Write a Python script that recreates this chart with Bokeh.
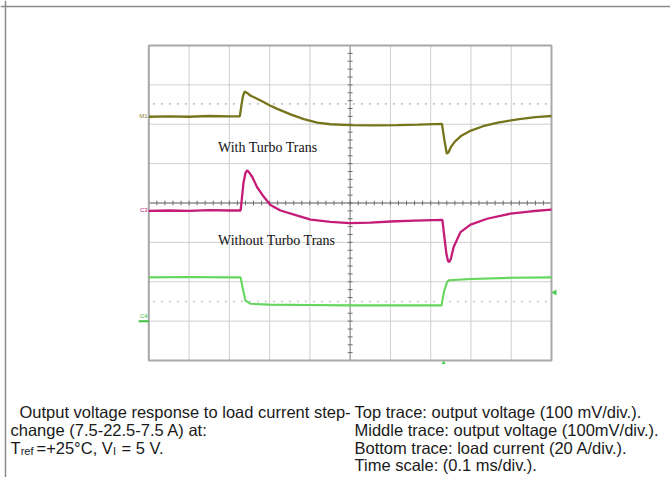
import numpy as np
from bokeh.plotting import figure
from bokeh.models import Range1d, Span
from bokeh.embed import file_html
from bokeh.resources import INLINE
from bokeh.core.properties import value

# ---- data: time in divisions (0.1 ms/div), amplitude in divisions ----
top_t = [0.0, 0.5, 1.0, 1.5, 2.0, 2.26, 2.30, 2.34, 2.38, 2.45, 2.52, 2.70, 2.86, 3.02,
         3.19, 3.52, 3.85, 4.18, 4.51, 5.01, 5.6, 6.17, 6.7, 7.28, 7.34, 7.40, 7.45,
         7.50, 7.60, 7.75, 8.0, 8.3, 8.7, 9.2, 9.6, 10.0]
top_v = [6.19, 6.20, 6.19, 6.21, 6.20, 6.20, 6.48, 6.72, 6.83, 6.79, 6.73, 6.64, 6.56, 6.47,
         6.39, 6.25, 6.13, 6.04, 6.00, 5.98, 5.97, 5.98, 5.99, 6.01, 5.60, 5.25, 5.30,
         5.42, 5.56, 5.70, 5.84, 5.95, 6.05, 6.13, 6.18, 6.21]

mid_t = [0.0, 0.5, 1.0, 1.5, 2.0, 2.28, 2.31, 2.35, 2.40, 2.44, 2.49, 2.57, 2.69, 2.86,
         3.02, 3.27, 3.69, 4.02, 4.51, 4.99, 5.5, 6.0, 6.6, 7.29, 7.33, 7.39, 7.43, 7.46,
         7.50, 7.57, 7.74, 7.99, 8.40, 8.98, 9.5, 10.0]
mid_v = [3.80, 3.81, 3.80, 3.82, 3.81, 3.81, 4.10, 4.50, 4.76, 4.83, 4.78, 4.66, 4.40, 4.15,
         3.95, 3.81, 3.68, 3.58, 3.52, 3.49, 3.50, 3.53, 3.55, 3.57, 3.22, 2.71, 2.53, 2.50,
         2.58, 2.88, 3.26, 3.45, 3.60, 3.73, 3.79, 3.83]

bot_t = [0.0, 1.0, 2.0, 2.28, 2.33, 2.40, 2.53, 3.0, 4.0, 5.0, 6.0, 7.0, 7.27, 7.33,
         7.41, 7.45, 8.0, 9.0, 10.0]
bot_v = [2.11, 2.12, 2.11, 2.11, 1.85, 1.52, 1.44, 1.42, 1.41, 1.40, 1.40, 1.40, 1.40, 1.75,
         2.00, 2.04, 2.07, 2.10, 2.11]

trace_labels = ["With Turbo Trans", "Without Turbo Trans"]
caption_left = ["Output voltage response to load current step-",
                "change (7.5-22.5-7.5 A) at:"]
caption_right = ["Top trace: output voltage (100 mV/div.).",
                 "Middle trace: output voltage (100mV/div.).",
                 "Bottom trace: load current (20 A/div.).",
                 "Time scale: (0.1 ms/div.)."]

# ---- layout helpers (reference pixel -> division coordinates) ----
def rx(px):
    return (px - 148.3) / 40.27

def ry(py):
    return (360.0 - py) / 39.375

W, H = 670, 477
p = figure(width=W, height=H, output_backend="svg", toolbar_location=None,
           x_range=Range1d(rx(0), rx(W)), y_range=Range1d(ry(H), ry(0)),
           x_axis_type=None, y_axis_type=None, min_border=0)
p.outline_line_color = None
p.xgrid.visible = False
p.ygrid.visible = False
p.background_fill_color = "white"

# outer page frame (top and left)
p.add_layout(Span(location=ry(6), dimension="width", line_color="#8a8a8a", line_width=1.5))
p.add_layout(Span(location=rx(5), dimension="height", line_color="#8a8a8a", line_width=1.5))

# graticule
gx = list(range(0, 11))
gy = list(range(0, 9))
p.segment(x0=gx, y0=[0] * len(gx), x1=gx, y1=[8] * len(gx), line_color="#cfcfcf", line_width=1)
p.segment(x0=[0] * len(gy), y0=gy, x1=[10] * len(gy), y1=gy, line_color="#cfcfcf", line_width=1)
# centre lines
p.segment(x0=[5], y0=[0], x1=[5], y1=[8], line_color="#8c8c8c", line_width=1)
p.segment(x0=[0], y0=[4], x1=[10], y1=[4], line_color="#6e6e6e", line_width=1.2)
# minor ticks on centre lines
tx = np.arange(0, 10.001, 0.2)
ty = np.arange(0, 8.001, 0.2)
p.segment(x0=tx, y0=4 - 0.06, x1=tx, y1=4 + 0.06, line_color="#6e6e6e", line_width=1)
p.segment(x0=5 - 0.06, y0=ty, x1=5 + 0.06, y1=ty, line_color="#6e6e6e", line_width=1)
# border
p.rect(x=[5], y=[4], width=[10], height=[8], fill_color=None, line_color="#a8a8a8", line_width=2)

# dotted reference rows
p.line([0.1, 9.9], [6.52, 6.52], line_color="#c4c4c4", line_width=1.8, line_dash="2 6")
p.line([0.1, 9.9], [1.50, 1.50], line_color="#d0d0d0", line_width=1.8, line_dash="2 6")

# traces
p.line(top_t, top_v, line_color="#77751c", line_width=2.3)
p.line(mid_t, mid_v, line_color="#c41c78", line_width=2.3)
p.line(bot_t, bot_v, line_color="#63d65c", line_width=2.1)

# channel markers
p.text(x=[-0.03], y=[6.2], text=["M1"], text_font_size="6px", text_color="#8a8a30",
       text_align="right", text_baseline="middle", text_font=value("Liberation Sans"))
p.text(x=[-0.03], y=[3.81], text=["C3"], text_font_size="6px", text_color="#c41c78",
       text_align="right", text_baseline="middle", text_font=value("Liberation Sans"))
p.text(x=[-0.03], y=[1.12], text=["C4"], text_font_size="6px", text_color="#3cbf3c",
       text_align="right", text_baseline="middle", text_font=value("Liberation Sans"))
p.segment(x0=[-0.25], y0=[1.0], x1=[0.0], y1=[1.0], line_color="#3cbf3c", line_width=2)
p.scatter(x=[10.08], y=[1.73], marker="triangle", angle=np.pi / 2, size=6,
          fill_color="#4ccf4c", line_color=None)
p.scatter(x=[7.32], y=[-0.06], marker="triangle", size=4,
          fill_color="#4ccf4c", line_color=None)

# trace labels
p.text(x=[1.72, 1.72], y=[ry(146.5), ry(240.0)], text=trace_labels,
       text_font=value("Liberation Serif"), text_font_size="14px", text_color="#111111",
       text_baseline="middle", text_align="left")

# caption
mids = [411.5, 429.0, 447.0, 464.5]
sans = value("Liberation Sans")
fs = "16.5px"
p.text(x=[rx(19), rx(10)], y=[ry(mids[0]), ry(mids[1])], text=caption_left,
       text_font=sans, text_font_size=fs, text_color="#1a1a1a", text_baseline="middle")
p.text(x=[rx(354)] * 4, y=[ry(m) for m in mids], text=caption_right,
       text_font=sans, text_font_size=fs, text_color="#1a1a1a", text_baseline="middle")
# third left line with subscripts
p.text(x=[rx(10)], y=[ry(mids[2])], text=["T"], text_font=sans, text_font_size=fs,
       text_color="#1a1a1a", text_baseline="middle")
p.text(x=[rx(20.2)], y=[ry(mids[2] + 3)], text=["ref"], text_font=sans, text_font_size="11px",
       text_color="#1a1a1a", text_baseline="middle")
p.text(x=[rx(36)], y=[ry(mids[2])], text=["=+25°C, V"], text_font=sans, text_font_size=fs,
       text_color="#1a1a1a", text_baseline="middle")
p.text(x=[rx(112.5)], y=[ry(mids[2] + 3)], text=["I"], text_font=sans, text_font_size="11px",
       text_color="#1a1a1a", text_baseline="middle")
p.text(x=[rx(121)], y=[ry(mids[2])], text=["= 5 V."], text_font=sans, text_font_size=fs,
       text_color="#1a1a1a", text_baseline="middle")

open("out.html", "w").write(file_html(p, INLINE))
